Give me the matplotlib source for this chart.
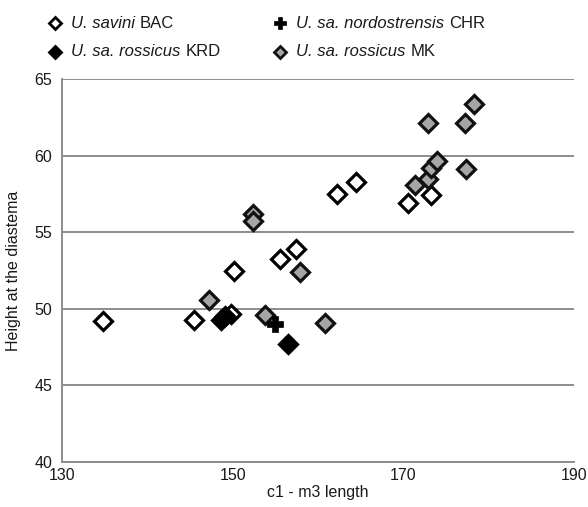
import matplotlib
matplotlib.use("Agg")
import matplotlib.pyplot as plt
from matplotlib.lines import Line2D
from matplotlib.offsetbox import TextArea, HPacker, AnchoredOffsetbox

plt.rcParams['font.family'] = ['Liberation Sans', 'DejaVu Sans']

# Data
bac_x = [134.8, 145.5, 149.8, 150.2, 155.5, 157.4, 162.2, 164.5, 170.6, 173.2]
bac_y = [49.2, 49.25, 49.65, 52.5, 53.25, 53.9, 57.5, 58.3, 56.9, 57.4]

krd_x = [148.6, 149.1, 156.5]
krd_y = [49.3, 49.5, 47.7]

chr_x = [155.0]
chr_y = [49.0]

mk_x = [147.2, 152.4, 152.4, 153.8, 157.9, 160.8, 171.4, 172.9, 173.3, 173.9, 172.9, 177.2, 178.3, 177.4]
mk_y = [50.6, 56.2, 55.7, 49.6, 52.4, 49.1, 58.1, 58.5, 59.2, 59.65, 62.1, 62.1, 63.4, 59.1]

x_ticks = [130, 150, 170, 190]
y_ticks = [40, 45, 50, 55, 60, 65]

label_italic = ["U. savini", "U. sa. nordostrensis", "U. sa. rossicus", "U. sa. rossicus"]
label_plain = ["BAC", "CHR", "KRD", "MK"]

W, H = 588, 507
fig = plt.figure(figsize=(W / 100, H / 100), dpi=100)
ax = fig.add_axes([62 / W, 1 - 462 / H, (574 - 62) / W, (462 - 79) / H])

ms = 9
mew = 2.3
ax.plot(bac_x, bac_y, 'D', ms=ms, mfc='white', mec='black', mew=mew, zorder=3)
ax.plot(mk_x, mk_y, 'D', ms=ms, mfc='#a6a6a6', mec='#111111', mew=mew, zorder=3)
ax.plot(krd_x, krd_y, 'D', ms=ms, mfc='black', mec='black', mew=mew, zorder=4)
ax.plot(chr_x, chr_y, 'P', ms=11, mfc='black', mec='black', mew=0.5, zorder=5)

ax.set_xlim(130, 190)
ax.set_ylim(40, 65)
ax.set_xticks(x_ticks)
ax.set_yticks(y_ticks)
ax.tick_params(length=0, labelsize=11.5, colors='#1a1a1a', pad=7)
ax.tick_params(axis='x', pad=4)
ax.yaxis.grid(True, color='#8c8c8c', lw=1.4)
ax.set_axisbelow(True)
for s in ['top', 'right']:
    ax.spines[s].set_visible(False)
for s in ['left', 'bottom']:
    ax.spines[s].set_color('#8c8c8c')
    ax.spines[s].set_linewidth(1.4)

ax.set_xlabel('c1 - m3 length', fontsize=11.5, color='#1a1a1a', labelpad=2)
ax.set_ylabel('Height at the diastema', fontsize=11.5, color='#1a1a1a', labelpad=10)

# Legend drawn manually
entries = [
    (55, 23, 'D', 'white', 'black', 0),
    (280, 23, 'P', 'black', 'black', 1),
    (55, 52, 'D', 'black', 'black', 2),
    (280, 52, 'D', '#a6a6a6', '#111111', 3),
]
for (px, py, mk, fc, ec, i) in entries:
    if mk == 'P':
        fig.add_artist(Line2D([px / W], [1 - py / H], marker='P', ms=9, mfc=fc, mec=ec,
                              mew=0.5, transform=fig.transFigure, linestyle='none'))
    else:
        fig.add_artist(Line2D([px / W], [1 - py / H], marker='D', ms=6.5, mfc=fc, mec=ec,
                              mew=2, transform=fig.transFigure, linestyle='none'))
    t1 = TextArea(label_italic[i], textprops=dict(fontsize=12, style='italic', color='#1a1a1a'))
    t2 = TextArea(label_plain[i], textprops=dict(fontsize=12, color='#1a1a1a'))
    box = HPacker(children=[t1, t2], align='baseline', pad=0, sep=3.5)
    anch = AnchoredOffsetbox(loc='center left', child=box, pad=0, borderpad=0, frameon=False,
                             bbox_to_anchor=((px + 16) / W, 1 - py / H),
                             bbox_transform=fig.transFigure)
    fig.add_artist(anch)

fig.savefig('out.png', dpi=100)
